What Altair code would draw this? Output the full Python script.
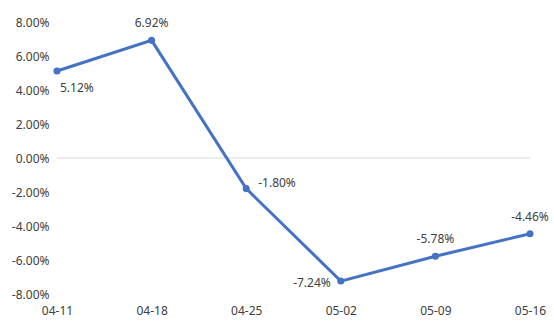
import altair as alt
import pandas as pd

dates = ["04-11", "04-18", "04-25", "05-02", "05-09", "05-16"]
values = [5.12, 6.92, -1.80, -7.24, -5.78, -4.46]
label_side = ["below", "above", "right", "left", "above", "above"]
y_ticks = [-8, -6, -4, -2, 0, 2, 4, 6, 8]

df = pd.DataFrame({
    "date": dates,
    "value": values,
    "label": [f"{v:.2f}%" for v in values],
    "side": label_side,
})

FONT = "Noto Sans"
COLOR = "#4472C4"

x = alt.X("date:N", sort=dates, scale=alt.Scale(type="point", padding=0),
          axis=alt.Axis(title=None, labelAngle=0, domain=False, ticks=False,
                        labelPadding=11, labelFontSize=12, labelColor="#404040",
                        labelFont=FONT, grid=False, labelOverlap=False))
y_axis = alt.Axis(title=None, values=y_ticks, domain=False, ticks=False, grid=False,
                  labelExpr="replace(format(datum.value, '.2f'), '\u2212', '-') + '%'",
                  labelPadding=8, labelFontSize=12, labelColor="#404040",
                  labelFont=FONT, labelOverlap=False, labelBound=False,
                  labelFlush=False)
y_scale = alt.Scale(domain=[-8, 8], nice=False)
y = alt.Y("value:Q", scale=y_scale, axis=y_axis)

base = alt.Chart(df)

zero = alt.Chart(pd.DataFrame({"v": [0]})).mark_rule(color="#d9d9d9", strokeWidth=1).encode(
    y=alt.Y("v:Q", scale=y_scale, axis=y_axis))
line = base.mark_line(color=COLOR, strokeWidth=3).encode(x=x, y=y)
pts = base.mark_circle(color=COLOR, size=50, opacity=1).encode(x=x, y=y)

def labels(side, **kw):
    return base.transform_filter(alt.datum.side == side).mark_text(
        font=FONT, fontSize=12, color="#404040", **kw
    ).encode(x=x, y=y, text="label:N")

lab_above = labels("above", dy=-17)
lab_below = labels("below", dx=3, dy=17, align="left")
lab_right = labels("right", dx=12, dy=-6, align="left")
lab_left = labels("left", dx=-10, dy=2, align="right")

chart = alt.layer(zero, line, pts, lab_above, lab_below, lab_right, lab_left).properties(
    width=473, height=272,
    padding={"left": 57, "top": 22, "right": 24, "bottom": 34},
    autosize=alt.AutoSizeParams(type="none"),
).configure_view(stroke=None)

chart.save("out.html", embed_options={"renderer": "svg", "actions": False})
